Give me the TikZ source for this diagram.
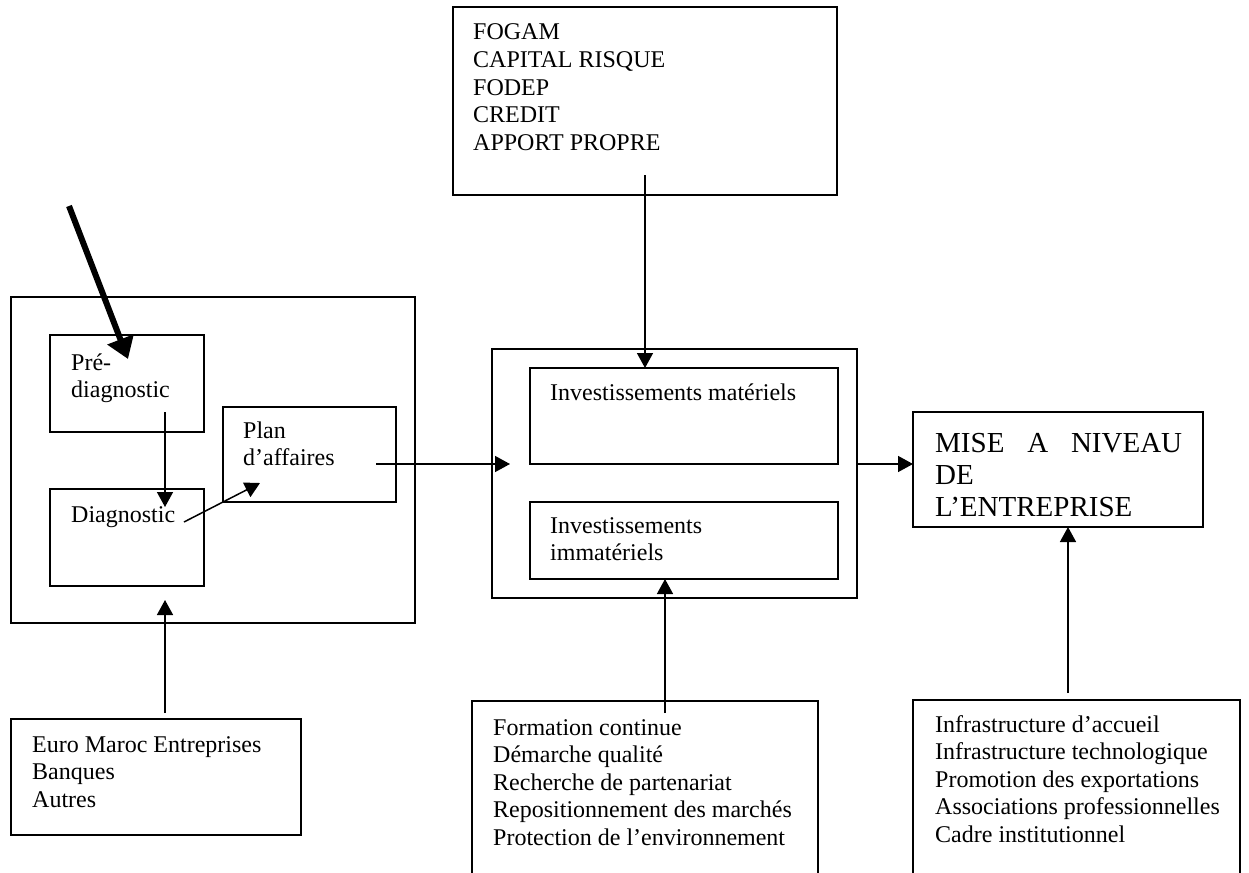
\documentclass[tikz,border=0pt]{standalone}
\usepackage{fontspec}
\setmainfont{Liberation Serif}
\usetikzlibrary{arrows.meta}
\newcommand{\blk}[1]{\begin{tabular}[t]{@{}l@{}}#1\end{tabular}}
\begin{document}
\begin{tikzpicture}[x=1pt,y=-1pt,
  box/.style={draw, line width=1.5pt, inner sep=0pt, outer sep=0pt, anchor=north west},
  txt/.style={anchor=base west, inner sep=0pt, font=\fontsize{24}{27.6}\selectfont},
  bigtxt/.style={anchor=base west, inner sep=0pt, font=\fontsize{29}{32}\selectfont},
  conn/.style={line width=1.5pt, -{Triangle[length=15pt,width=16pt]}},
  bigarrow/.style={line width=6pt, -{Triangle[length=21pt,width=27pt]}}
]
\fill[white] (0,0) rectangle (1249,872);
\useasboundingbox (0,0) rectangle (1249,872);

% boxes
\node[box, minimum width=384pt, minimum height=188pt] (fogam) at (453,7) {};
\node[box, minimum width=404pt, minimum height=326pt] (left) at (11,297) {};
\node[box, minimum width=154pt, minimum height=97pt] (pre) at (50,335) {};
\node[box, minimum width=154pt, minimum height=97pt] (diag) at (50,489) {};
\node[box, minimum width=173pt, minimum height=95pt] (plan) at (223,407) {};
\node[box, minimum width=365pt, minimum height=249pt] (mid) at (492,349) {};
\node[box, minimum width=308pt, minimum height=96pt] (mat) at (530,368) {};
\node[box, minimum width=308pt, minimum height=77pt] (imm) at (530,502) {};
\node[box, minimum width=290pt, minimum height=115pt] (mise) at (913,412) {};
\node[box, minimum width=290pt, minimum height=116pt] (euro) at (11,719) {};
\node[box, minimum width=346pt, minimum height=200pt] (form) at (472,701) {};
\node[box, minimum width=327pt, minimum height=200pt] (infra) at (913,700) {};

% texts
\node[txt] (fogamtxt) at (473,40) {\blk{FOGAM\\CAPITAL RISQUE\\FODEP\\CREDIT\\APPORT PROPRE}};
\node[txt] (pretxt) at (71,370) {\blk{Pré-\\diagnostic}};
\node[txt] (diagtxt) at (71,522) {Diagnostic};
\node[txt] (plantxt) at (243,438) {\blk{Plan\\d’affaires}};
\node[txt] (mattxt) at (550,400) {Investissements matériels};
\node[txt] (immtxt) at (550,533) {\blk{Investissements\\immatériels}};
\node[bigtxt] (misetxt) at (935,452) {\blk{\makebox[247pt][s]{MISE A NIVEAU}\\DE\\L’ENTREPRISE}};
\node[txt] (eurotxt) at (32,752) {\blk{Euro Maroc Entreprises\\Banques\\Autres}};
\node[txt] (formtxt) at (493,735) {\blk{Formation continue\\Démarche qualité\\Recherche de partenariat\\Repositionnement des marchés\\Protection de l’environnement}};
\node[txt] (infratxt) at (935,732) {\blk{Infrastructure d’accueil\\Infrastructure technologique\\Promotion des exportations\\Associations professionnelles\\Cadre institutionnel}};

% connector end points
\coordinate (bigS) at (69,206);
\coordinate (bigE) at (128,359);
\coordinate (preS) at (165,412);
\coordinate (diagE) at (165,507);
\coordinate (diagS) at (184,522);
\coordinate (planE) at (260,483);
\coordinate (planS) at (376,464);
\coordinate (midE) at (510,464);
\coordinate (fogS) at (645,175);
\coordinate (euroS) at (165,713);
\coordinate (leftE) at (165,600);
\coordinate (formS) at (665,713);
\coordinate (infraS) at (1068,693);

% connectors
\draw[bigarrow] (bigS) -- (bigE);
\draw[conn] (preS) -- (diagE);
\draw[conn] (diagS) -- (planE);
\draw[conn] (planS) -- (midE);
\draw[conn] (fogS) -- (fogS |- mat.north);
\draw[conn] (mid.east |- planS) -- (mise.west |- planS);
\draw[conn] (euroS) -- (leftE);
\draw[conn] (formS) -- (formS |- imm.south);
\draw[conn] (infraS) -- (infraS |- mise.south);
\end{tikzpicture}
\end{document}
